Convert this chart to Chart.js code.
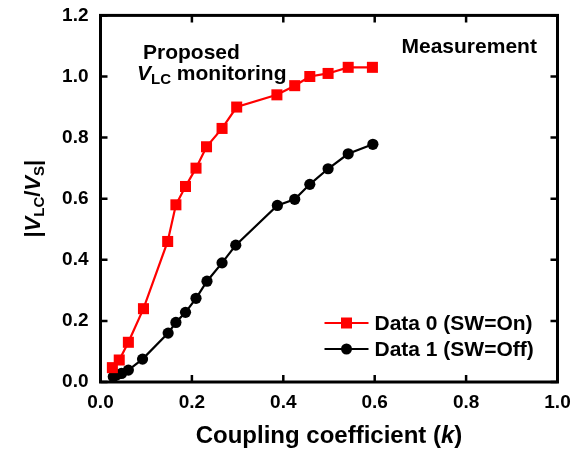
<!DOCTYPE html>
<html>
<head>
<meta charset="utf-8">
<script src="https://cdn.jsdelivr.net/npm/chart.js@4.4.0/dist/chart.umd.min.js"></script>
<style>
  html, body { margin: 0; padding: 0; background: #fff; }
</style>
</head>
<body>
<canvas id="myChart" width="587" height="456"></canvas>
<script>
// data
var kOn  = [0.026, 0.041, 0.061, 0.094, 0.147, 0.165, 0.186, 0.209, 0.232, 0.266, 0.298, 0.386, 0.425, 0.458, 0.498, 0.542, 0.595];
var vOn  = [0.047, 0.072, 0.13, 0.24, 0.46, 0.58, 0.64, 0.70, 0.77, 0.83, 0.90, 0.94, 0.97, 1.00, 1.01, 1.03, 1.03];
var kOff = [0.028, 0.035, 0.046, 0.061, 0.092, 0.148, 0.165, 0.186, 0.209, 0.233, 0.266, 0.296, 0.387, 0.425, 0.458, 0.498, 0.542, 0.596];
var vOff = [0.017, 0.023, 0.028, 0.039, 0.075, 0.16, 0.195, 0.228, 0.274, 0.33, 0.39, 0.448, 0.578, 0.598, 0.647, 0.698, 0.747, 0.778];

var xTicks = [0, 0.2, 0.4, 0.6, 0.8, 1.0];
var yTicks = [0, 0.2, 0.4, 0.6, 0.8, 1.0, 1.2];

var seriesNames  = ['Data 0 (SW=On)', 'Data 1 (SW=Off)'];
var seriesColors = ['#ff0000', '#000000'];

var FAM = '"Liberation Sans", Arial, sans-serif';

function pts(xs, ys) {
    return xs.map((x, i) => ({ x: x, y: ys[i] }));
}

// draw a row of text pieces with different fonts / offsets
function drawRuns(ctx, runs, x, y, align) {
    var total = 0;
    runs.forEach(r => { ctx.font = r.font; total += ctx.measureText(r.t).width; });
    var cx = align === 'center' ? x - total / 2 : x;
    ctx.textAlign = 'left';
    ctx.textBaseline = 'alphabetic';
    runs.forEach(r => {
        ctx.font = r.font;
        ctx.fillText(r.t, cx, y + (r.dy || 0));
        cx += ctx.measureText(r.t).width;
    });
}

var B21  = 'bold 21px ' + FAM;
var BI21 = 'italic bold 21px ' + FAM;
var B22  = 'bold 22px ' + FAM;
var BI22 = 'italic bold 22px ' + FAM;
var B24  = 'bold 24px ' + FAM;
var BI24 = 'italic bold 24px ' + FAM;
var S15  = 'bold 15px ' + FAM;

var framePlugin = {
    id: 'frame',
    beforeDatasetsDraw(chart) {
        var ctx = chart.ctx, a = chart.chartArea;
        var sx = chart.scales.x, sy = chart.scales.y;
        ctx.save();
        ctx.strokeStyle = '#000';
        ctx.lineWidth = 3;
        ctx.strokeRect(a.left, a.top, a.right - a.left, a.bottom - a.top);
        ctx.lineWidth = 2.5;
        ctx.beginPath();
        xTicks.forEach(v => {
            var px = sx.getPixelForValue(v);
            ctx.moveTo(px, a.bottom); ctx.lineTo(px, a.bottom - 7);
            ctx.moveTo(px, a.top);    ctx.lineTo(px, a.top + 7);
        });
        yTicks.forEach(v => {
            var py = sy.getPixelForValue(v);
            ctx.moveTo(a.left, py);  ctx.lineTo(a.left + 7, py);
            ctx.moveTo(a.right, py); ctx.lineTo(a.right - 7, py);
        });
        ctx.stroke();
        ctx.restore();
    },
    afterDraw(chart) {
        var ctx = chart.ctx, a = chart.chartArea;
        ctx.save();
        ctx.fillStyle = '#000';

        // axis titles
        drawRuns(ctx, [
            { t: 'Coupling coefficient (', font: B24 },
            { t: 'k', font: BI24 },
            { t: ')', font: B24 }
        ], (a.left + a.right) / 2, 443, 'center');

        ctx.save();
        ctx.translate(39.5, (a.top + a.bottom) / 2);
        ctx.rotate(-Math.PI / 2);
        drawRuns(ctx, [
            { t: '|', font: B22 },
            { t: 'V', font: BI22 },
            { t: 'LC', font: S15, dy: 4 },
            { t: '/', font: B22 },
            { t: 'V', font: BI22 },
            { t: 'S', font: S15, dy: 4 },
            { t: '|', font: B22 }
        ], 0, 0, 'center');
        ctx.restore();

        // annotations
        drawRuns(ctx, [{ t: 'Proposed', font: B21 }], 143, 58.5);
        drawRuns(ctx, [
            { t: 'V', font: BI21 },
            { t: 'LC', font: S15, dy: 4 },
            { t: ' monitoring', font: B21 }
        ], 137, 79.5);
        drawRuns(ctx, [{ t: 'Measurement', font: B21 }], 401.5, 52.5);

        // legend
        var lx = a.right - 233, ly = a.bottom - 59;
        chart.data.datasets.forEach((ds, i) => {
            var y = ly + i * 26;
            ctx.strokeStyle = ds.borderColor;
            ctx.lineWidth = 2;
            ctx.beginPath();
            ctx.moveTo(lx, y); ctx.lineTo(lx + 44, y);
            ctx.stroke();
            ctx.fillStyle = ds.backgroundColor;
            ctx.beginPath();
            if (ds.pointStyle === 'rect') {
                ctx.rect(lx + 22 - 5.5, y - 5.5, 11, 11);
            } else {
                ctx.arc(lx + 22, y, 5.5, 0, Math.PI * 2);
            }
            ctx.fill();
            ctx.fillStyle = '#000';
            ctx.font = 'bold 21px ' + FAM;
            ctx.textBaseline = 'middle';
            ctx.textAlign = 'left';
            ctx.fillText(ds.label, lx + 50, y + 1);
        });
        ctx.restore();
    }
};

var ctx = document.getElementById('myChart').getContext('2d');

var chart = new Chart(ctx, {
    type: 'scatter',
    data: {
        datasets: [{
            label: seriesNames[0],
            data: pts(kOn, vOn),
            showLine: true,
            borderColor: seriesColors[0],
            backgroundColor: seriesColors[0],
            borderWidth: 2.2,
            pointStyle: 'rect',
            pointRadius: 7.8,
            pointBorderWidth: 0,
            clip: false
        }, {
            label: seriesNames[1],
            data: pts(kOff, vOff),
            showLine: true,
            borderColor: seriesColors[1],
            backgroundColor: seriesColors[1],
            borderWidth: 2.2,
            pointStyle: 'circle',
            pointRadius: 5.6,
            pointBorderWidth: 0,
            clip: false
        }]
    },
    options: {
        responsive: false,
        animation: false,
        layout: { padding: { left: 0, top: 15, right: 29.5, bottom: 0 } },
        plugins: {
            legend: { display: false },
            tooltip: { enabled: false }
        },
        scales: {
            x: {
                type: 'linear',
                min: 0, max: 1,
                afterBuildTicks: s => { s.ticks = xTicks.map(v => ({ value: v })); },
                afterFit: s => { s.height = 74; },
                grid: { display: false },
                border: { display: false },
                ticks: {
                    color: '#000',
                    padding: 1,
                    font: { family: FAM, size: 19, weight: 'bold' },
                    callback: v => v.toFixed(1),
                    maxRotation: 0
                }
            },
            y: {
                type: 'linear',
                min: 0, max: 1.2,
                afterBuildTicks: s => { s.ticks = yTicks.map(v => ({ value: v })); },
                afterFit: s => { s.width = 100.5; },
                grid: { display: false },
                border: { display: false },
                ticks: {
                    color: '#000',
                    padding: 4,
                    font: { family: FAM, size: 19, weight: 'bold' },
                    callback: v => v.toFixed(1)
                }
            }
        }
    },
    plugins: [framePlugin]
});
</script>
</body>
</html>
